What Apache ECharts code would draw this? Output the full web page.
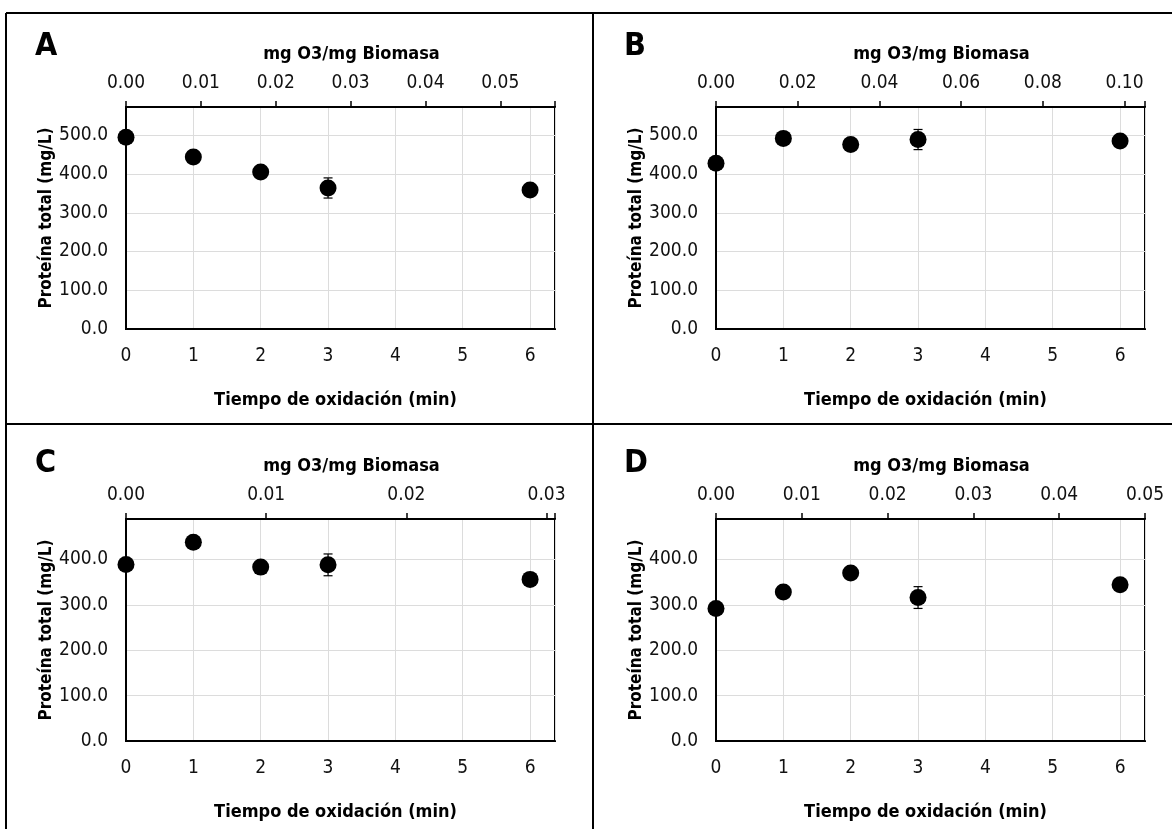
<!DOCTYPE html>
<html>
<head>
<meta charset="utf-8">
<script src="https://cdn.jsdelivr.net/npm/echarts@6/dist/echarts.min.js"></script>
<style>
html,body{margin:0;padding:0;background:#fff;}
#c{width:1172px;height:829px;}
</style>
</head>
<body>
<div id="c"></div>
<script>
// ---- data ----
const panelLabels = ['A', 'B', 'C', 'D'];
const minutes = [0, 1, 2, 3, 6];
const proteinA = [495, 444, 405, 364, 359];
const proteinB = [428, 492, 476, 489, 485];
const proteinC = [389, 438, 383, 388, 356];
const proteinD = [292, 328, 370, 316, 344];
const errorA = [8, 8, 8, 26, 8];
const errorB = [8, 8, 8, 26, 8];
const errorC = [8, 8, 8, 24, 8];
const errorD = [8, 8, 8, 24, 8];
const ozoneMax = [0.0573, 0.105, 0.0306, 0.05];     // top axis extent (mg O3/mg Biomasa)
const ozoneInterval = [0.01, 0.02, 0.01, 0.01];
const yMax = [573, 573, 489, 489];
const xTitle = 'Tiempo de oxidación (min)';
const topTitle = 'mg O3/mg Biomasa';
const yTitle = 'Proteína total (mg/L)';

const series = [proteinA, proteinB, proteinC, proteinD];
const errors = [errorA, errorB, errorC, errorD];

// ---- layout ----
const FONT = '"Liberation Sans Narrow", "Arial Narrow", "DejaVu Sans Condensed", "Liberation Sans", sans-serif';
const grids = [
  {left: 126, top: 107, width: 429, height: 222},
  {left: 716, top: 107, width: 429, height: 222},
  {left: 126, top: 519, width: 429, height: 222},
  {left: 716, top: 519, width: 429, height: 222}
];
const labelPos = [[35, 31], [624, 31], [35, 448], [624, 448]];

const option = {
  backgroundColor: '#fff',
  animation: false,
  textStyle: {fontFamily: FONT},
  title: panelLabels.map((t, i) => ({
    text: t, left: labelPos[i][0], top: labelPos[i][1], padding: 0,
    textStyle: {fontFamily: FONT, fontSize: 32, fontWeight: 'bold', color: '#000'}
  })),
  grid: grids.map(g => Object.assign({show: true, borderColor: '#000', borderWidth: 2, backgroundColor: 'transparent'}, g)),
  xAxis: [],
  yAxis: [],
  series: [],
  graphic: [
    {type: 'line', shape: {x1: 6, y1: 13, x2: 1172, y2: 13}, style: {stroke: '#000', lineWidth: 2}},
    {type: 'line', shape: {x1: 6, y1: 13, x2: 6, y2: 829}, style: {stroke: '#000', lineWidth: 2}},
    {type: 'line', shape: {x1: 593, y1: 13, x2: 593, y2: 829}, style: {stroke: '#000', lineWidth: 2}},
    {type: 'line', shape: {x1: 6, y1: 424, x2: 1172, y2: 424}, style: {stroke: '#000', lineWidth: 2}}
  ]
};

function isMultiple(v, step) {
  const r = v / step;
  return Math.abs(r - Math.round(r)) < 1e-6;
}

for (let g = 0; g < 4; g++) {
  option.xAxis.push({
    type: 'value', gridIndex: g, position: 'bottom', min: 0, max: 6.37, interval: 1,
    name: xTitle, nameLocation: 'middle', nameGap: 62,
    nameTextStyle: {fontFamily: FONT, fontSize: 18, fontWeight: 'bold', color: '#000', padding: [0, 10, 0, 0]},
    axisLine: {show: true, lineStyle: {color: '#000', width: 2}},
    axisTick: {show: false},
    axisLabel: {margin: 18, fontFamily: FONT, fontSize: 19, color: '#111',
      formatter: v => isMultiple(v, 1) && v <= 6 ? String(v) : ''},
    splitLine: {show: true, lineStyle: {color: '#dcdcdc', width: 1}}
  });
  const step = ozoneInterval[g];
  option.xAxis.push({
    type: 'value', gridIndex: g, position: 'top', min: 0, max: ozoneMax[g], interval: step,
    name: topTitle, nameLocation: 'middle', nameGap: 44,
    nameTextStyle: {fontFamily: FONT, fontSize: 18, fontWeight: 'bold', color: '#000', padding: [0, 0, 0, 22]},
    axisLine: {show: true, lineStyle: {color: '#000', width: 2}},
    axisTick: {show: true, inside: false, length: 6, lineStyle: {color: '#000', width: 1.5}},
    axisLabel: {margin: 14, fontFamily: FONT, fontSize: 19, color: '#111',
      formatter: v => isMultiple(v, step) ? v.toFixed(2) : ''},
    splitLine: {show: false}
  });
  option.yAxis.push({
    type: 'value', gridIndex: g, min: 0, max: yMax[g], interval: 100,
    name: yTitle, nameLocation: 'middle', nameGap: 70,
    nameTextStyle: {fontFamily: FONT, fontSize: 17, fontWeight: 'bold', color: '#000'},
    axisLine: {show: true, lineStyle: {color: '#000', width: 2}},
    axisTick: {show: false},
    axisLabel: {margin: 18, fontFamily: FONT, fontSize: 19, color: '#111',
      formatter: v => isMultiple(v, 100) ? v.toFixed(1) : ''},
    splitLine: {show: true, lineStyle: {color: '#dcdcdc', width: 1}}
  });
  const vals = series[g];
  const errs = errors[g];
  option.series.push({
    type: 'custom', xAxisIndex: 2 * g, yAxisIndex: g, z: 3, clip: false,
    data: minutes.map((m, i) => [m, vals[i] - errs[i], vals[i] + errs[i]]),
    encode: {x: 0, y: [1, 2]},
    renderItem: (params, api) => {
      const x = api.value(0);
      const lo = api.coord([x, api.value(1)]);
      const hi = api.coord([x, api.value(2)]);
      const hw = 4.5;
      const st = {stroke: '#000', lineWidth: 1.2};
      return {type: 'group', children: [
        {type: 'line', shape: {x1: lo[0], y1: lo[1], x2: hi[0], y2: hi[1]}, style: st},
        {type: 'line', shape: {x1: lo[0] - hw, y1: lo[1], x2: lo[0] + hw, y2: lo[1]}, style: st},
        {type: 'line', shape: {x1: hi[0] - hw, y1: hi[1], x2: hi[0] + hw, y2: hi[1]}, style: st}
      ]};
    }
  });
  option.series.push({
    type: 'scatter', xAxisIndex: 2 * g, yAxisIndex: g, z: 4, clip: false,
    symbol: 'circle', symbolSize: 17,
    itemStyle: {color: '#000', opacity: 1},
    emphasis: {disabled: true},
    data: minutes.map((m, i) => [m, vals[i]])
  });
}

const chart = echarts.init(document.getElementById('c'), null, {renderer: 'canvas'});
chart.setOption(option);
</script>
</body>
</html>
